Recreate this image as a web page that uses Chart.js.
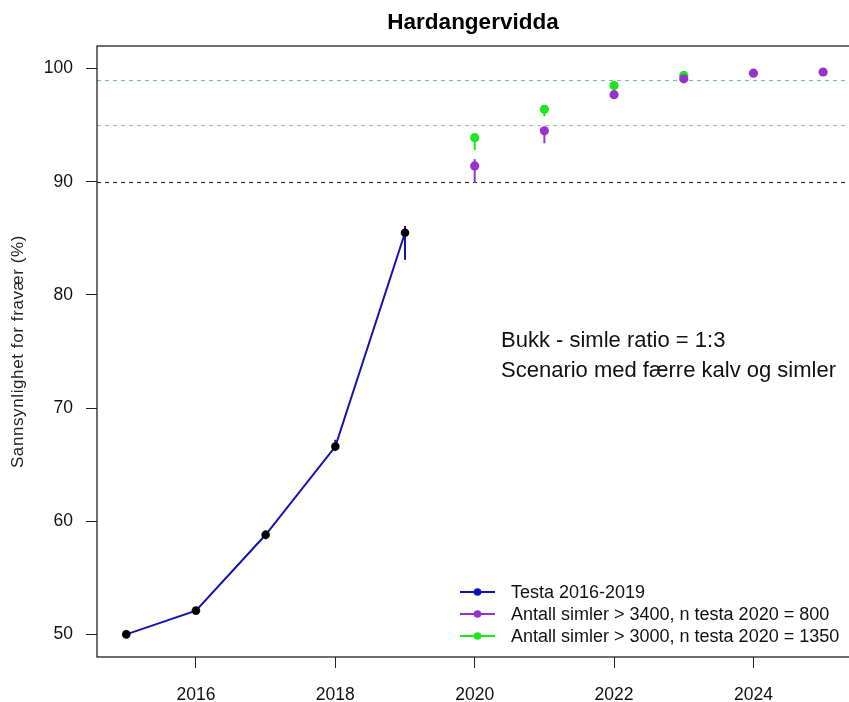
<!DOCTYPE html>
<html>
<head>
<meta charset="utf-8">
<script src="https://cdn.jsdelivr.net/npm/chart.js@4.4.0/dist/chart.umd.min.js"></script>
<style>
  html, body { margin: 0; padding: 0; background: #ffffff; overflow: hidden; }
  #wrap { width: 852px; height: 702px; }
</style>
</head>
<body>
<div id="wrap"><canvas id="c" width="852" height="702"></canvas></div>
<script>
// Years and estimated probability of absence (%) with uncertainty limits
const testYears = [2015, 2016, 2017, 2018, 2019];
const testValues = [50.0, 52.1, 58.8, 66.6, 85.5];
const testLower = [50.0, 52.0, 58.4, 66.2, 83.1];
const testUpper = [50.0, 52.2, 59.2, 67.2, 86.1];

const scenYears = [2020, 2021, 2022, 2023, 2024, 2025];
const simler3400 = [91.4, 94.5, 97.7, 99.1, 99.6, 99.7];
const simler3400Lower = [89.9, 93.4, 97.4, 99.0, 99.6, 99.7];
const simler3400Upper = [92.0, 94.7, 98.0, 99.2, 99.7, 99.8];

const simler3000Years = [2020, 2021, 2022, 2023];
const simler3000 = [93.9, 96.4, 98.5, 99.4];
const simler3000Lower = [92.8, 95.8, 98.3, 99.3];
const simler3000Upper = [94.1, 96.6, 98.6, 99.5];

const refLevels = [99, 95, 90];
const refColors = ['#93b3ae', '#b4b4b4', '#222222'];

const xTickValues = [2016, 2018, 2020, 2022, 2024];
const yTickValues = [50, 60, 70, 80, 90, 100];

const seriesLabels = [
  'Testa 2016-2019',
  'Antall simler > 3400, n testa 2020 = 800',
  'Antall simler > 3000, n testa 2020 = 1350'
];
const titleText = 'Hardangervidda';
const yTitle = 'Sannsynlighet for fravær (%)';
const noteLines = ['Bukk - simle ratio = 1:3', 'Scenario med færre kalv og simler'];

const BLUE = '#1212b0';
const PURPLE = '#9932cc';
const GREEN = '#1ee61e';
const FONT = '"Liberation Sans", Arial, sans-serif';

const toPoints = (xs, ys) => xs.map((x, i) => ({ x: x, y: ys[i] }));

const errorSets = [
  { xs: testYears, lo: testLower, hi: testUpper, color: BLUE },
  { xs: scenYears, lo: simler3400Lower, hi: simler3400Upper, color: PURPLE },
  { xs: simler3000Years, lo: simler3000Lower, hi: simler3000Upper, color: GREEN }
];

// Frame, reference lines, error bars, title, axis title, note and legend
const decorations = {
  id: 'decorations',
  beforeDatasetsDraw(chart) {
    const { ctx, chartArea: a, scales: { x, y } } = chart;
    ctx.save();
    ctx.lineWidth = 1.1;
    ctx.setLineDash([4, 4]);
    refLevels.forEach((v, i) => {
      const py = Math.round(y.getPixelForValue(v)) + 0.5;
      ctx.strokeStyle = refColors[i];
      ctx.beginPath();
      ctx.moveTo(a.left, py);
      ctx.lineTo(a.right, py);
      ctx.stroke();
    });
    ctx.setLineDash([]);
    ctx.lineWidth = 2;
    errorSets.forEach(s => {
      ctx.strokeStyle = s.color;
      s.xs.forEach((xv, i) => {
        const px = x.getPixelForValue(xv);
        ctx.beginPath();
        ctx.moveTo(px, y.getPixelForValue(s.lo[i]));
        ctx.lineTo(px, y.getPixelForValue(s.hi[i]));
        ctx.stroke();
      });
    });
    ctx.restore();
  },
  afterDraw(chart) {
    const { ctx, chartArea: a } = chart;
    ctx.save();
    // plot frame
    ctx.strokeStyle = '#222';
    ctx.lineWidth = 1.3;
    ctx.strokeRect(a.left, a.top, a.right - a.left, a.bottom - a.top);

    // title
    ctx.fillStyle = '#000';
    ctx.font = 'bold 22.5px ' + FONT;
    ctx.textAlign = 'center';
    ctx.textBaseline = 'middle';
    ctx.fillText(titleText, 473, 23);

    // y-axis title
    ctx.save();
    ctx.translate(18, (a.top + a.bottom) / 2);
    ctx.rotate(-Math.PI / 2);
    ctx.font = '17px ' + FONT;
    if ('letterSpacing' in ctx) ctx.letterSpacing = '0.6px';
    ctx.fillStyle = '#222';
    ctx.fillText(yTitle, 0, 0);
    ctx.restore();

    // note text
    ctx.font = '22px ' + FONT;
    ctx.textAlign = 'left';
    ctx.fillStyle = '#111';
    ctx.fillText(noteLines[0], 501, 341);
    ctx.fillText(noteLines[1], 501, 371);

    // legend
    const colors = [BLUE, PURPLE, GREEN];
    const rows = [592, 614, 636];
    ctx.font = '18px ' + FONT;
    seriesLabels.forEach((lab, i) => {
      ctx.strokeStyle = colors[i];
      ctx.fillStyle = colors[i];
      ctx.lineWidth = 2;
      ctx.beginPath();
      ctx.moveTo(460, rows[i]);
      ctx.lineTo(495, rows[i]);
      ctx.stroke();
      ctx.beginPath();
      ctx.arc(477.5, rows[i], 3.8, 0, Math.PI * 2);
      ctx.fill();
      ctx.fillStyle = '#111';
      ctx.fillText(lab, 511, rows[i] + 1);
    });
    ctx.restore();
  }
};

const tickFont = { family: FONT, size: 17.5 };

new Chart(document.getElementById('c'), {
  type: 'line',
  data: {
    datasets: [
      {
        label: seriesLabels[0],
        data: toPoints(testYears, testValues),
        borderColor: BLUE,
        borderWidth: 2,
        pointBackgroundColor: '#000',
        pointBorderWidth: 0,
        pointRadius: 4.3,
        showLine: true,
        tension: 0
      },
      {
        label: seriesLabels[1],
        data: toPoints(scenYears, simler3400),
        borderColor: PURPLE,
        pointBackgroundColor: PURPLE,
        pointBorderWidth: 0,
        pointRadius: 4.6,
        showLine: false
      },
      {
        label: seriesLabels[2],
        data: toPoints(simler3000Years, simler3000),
        borderColor: GREEN,
        pointBackgroundColor: GREEN,
        pointBorderWidth: 0,
        pointRadius: 4.6,
        showLine: false
      }
    ]
  },
  options: {
    responsive: false,
    animation: false,
    events: [],
    layout: { autoPadding: false, padding: { top: 46, right: 1, bottom: 0, left: 0 } },
    plugins: { legend: { display: false }, title: { display: false }, tooltip: { enabled: false } },
    scales: {
      x: {
        type: 'linear',
        min: 2014.58,
        max: 2025.4,
        afterFit(s) { s.height = 45; },
        afterBuildTicks(s) { s.ticks = xTickValues.map(v => ({ value: v })); },
        grid: { drawOnChartArea: false, drawTicks: true, tickLength: 11, tickColor: '#222', tickWidth: 1 },
        border: { display: false },
        ticks: { autoSkip: false, maxRotation: 0, padding: 17, color: '#111', font: tickFont,
                 callback: v => String(v) }
      },
      y: {
        type: 'linear',
        min: 48,
        max: 102,
        afterFit(s) { s.width = 97; },
        afterBuildTicks(s) { s.ticks = yTickValues.map(v => ({ value: v })); },
        grid: { drawOnChartArea: false, drawTicks: true, tickLength: 11, tickColor: '#222', tickWidth: 1 },
        border: { display: false },
        ticks: { autoSkip: false, padding: 13, color: '#111', font: tickFont,
                 callback: v => String(v) }
      }
    }
  },
  plugins: [decorations]
});
</script>
</body>
</html>
